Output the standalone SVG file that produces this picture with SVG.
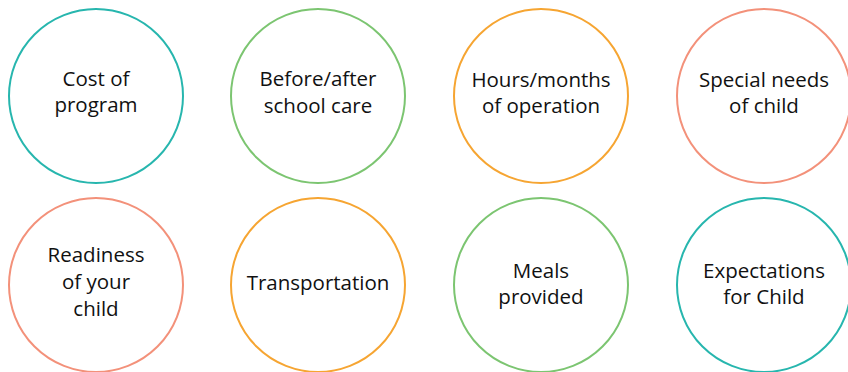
<svg xmlns="http://www.w3.org/2000/svg" width="848" height="372" viewBox="0 0 848 372">
<style>
.c{fill:#fff;stroke-width:2}
.teal{stroke:#27b6ae}
.green{stroke:#7cc571}
.orange{stroke:#f6a532}
.salmon{stroke:#f3917a}
text{font-family:"Open Sans","Noto Sans",sans-serif;font-size:20.5px;fill:#111;text-anchor:middle}
</style>
<rect width="848" height="372" fill="#fff"/>
<g id="connectors"/>
<g id="n1"><circle class="c teal" cx="96" cy="96" r="87"/><text x="96" y="86">Cost of</text><text x="96" y="112">program</text></g>
<g id="n2"><circle class="c green" cx="318" cy="96" r="87"/><text x="318" y="86">Before/after</text><text x="318" y="113">school care</text></g>
<g id="n3"><circle class="c orange" cx="541" cy="96" r="87"/><text x="541" y="87">Hours/months</text><text x="541" y="113">of operation</text></g>
<g id="n4"><circle class="c salmon" cx="764" cy="96" r="87"/><text x="764" y="87">Special needs</text><text x="764" y="113">of child</text></g>
<g id="n5"><circle class="c salmon" cx="96" cy="285" r="87"/><text x="96" y="262">Readiness</text><text x="96" y="289">of your</text><text x="96" y="316">child</text></g>
<g id="n6"><circle class="c orange" cx="318" cy="285" r="87"/><text x="318" y="290">Transportation</text></g>
<g id="n7"><circle class="c green" cx="541" cy="285" r="87"/><text x="541" y="278">Meals</text><text x="541" y="304">provided</text></g>
<g id="n8"><circle class="c teal" cx="764" cy="285" r="87"/><text x="764" y="278">Expectations</text><text x="764" y="304">for Child</text></g>
</svg>
